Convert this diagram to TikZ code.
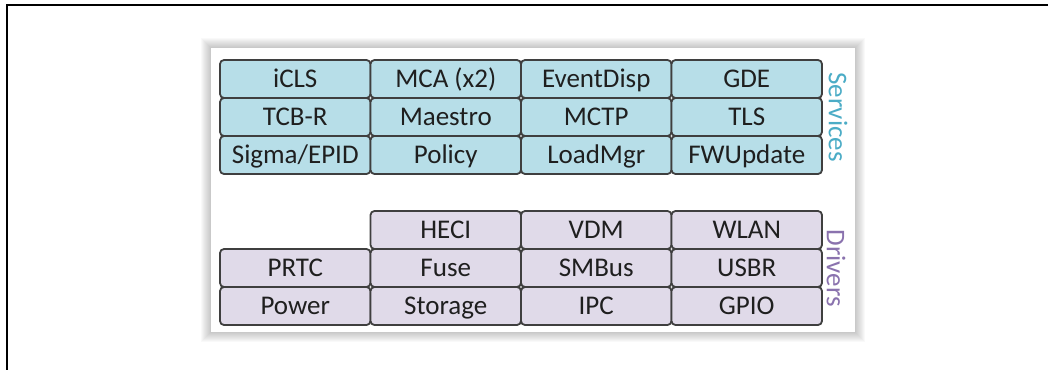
\documentclass[tikz,border=0pt]{standalone}
\usepackage{fontspec}
\setmainfont{Carlito}
\definecolor{svcfill}{HTML}{B7DEE8}
\definecolor{svctext}{HTML}{4BACC6}
\definecolor{drvfill}{HTML}{E0DAE9}
\definecolor{drvtext}{HTML}{8A72AE}
\definecolor{cellline}{HTML}{3F3F3F}
\begin{document}
\begin{tikzpicture}[x=1pt,y=-1pt,
        cell/.style={draw=cellline,line width=1.8pt,rounded corners=4pt,minimum width=150.5pt,minimum height=38pt,inner sep=0pt,text height=17pt,text depth=0pt,text=black!88,font=\fontsize{27}{28}\selectfont},
        svc/.style={cell,fill=svcfill},
        drv/.style={cell,fill=drvfill},
        side/.style={rotate=-90,inner sep=0pt,font=\fontsize{27}{28}\selectfont}]
        \useasboundingbox (0,0) rectangle (1052,370);
        %% Frame
        \draw[line width=2.5pt] (1048,5) -- (7,5) -- (7,370);
        %% Panel
        \foreach \i in {1,...,10}
            \fill[black,opacity=0.025] (211-\i,48-\i) rectangle (855+\i,332+\i);
        \fill[white] (211,48) rectangle (855,332);
        %% Services
        \node[svc] (iCLS) at (295.25,79) {iCLS};
        \node[svc] (MCA) at (445.75,79) {MCA (x2)};
        \node[svc] (EventDisp) at (596.25,79) {EventDisp};
        \node[svc] (GDE) at (746.75,79) {GDE};
        \node[svc] (TCBR) at (295.25,117) {TCB-R};
        \node[svc] (Maestro) at (445.75,117) {Maestro};
        \node[svc] (MCTP) at (596.25,117) {MCTP};
        \node[svc] (TLS) at (746.75,117) {TLS};
        \node[svc] (Sigma) at (295.25,155) {Sigma/EPID};
        \node[svc] (Policy) at (445.75,155) {Policy};
        \node[svc] (LoadMgr) at (596.25,155) {LoadMgr};
        \node[svc] (FWUpdate) at (746.75,155) {FWUpdate};
        \node[side,text=svctext] (Services) at (838,117) {Services};
        %% Drivers
        \node[drv] (HECI) at (445.75,230) {HECI};
        \node[drv] (VDM) at (596.25,230) {VDM};
        \node[drv] (WLAN) at (746.75,230) {WLAN};
        \node[drv] (PRTC) at (295.25,268) {PRTC};
        \node[drv] (Fuse) at (445.75,268) {Fuse};
        \node[drv] (SMBus) at (596.25,268) {SMBus};
        \node[drv] (USBR) at (746.75,268) {USBR};
        \node[drv] (Power) at (295.25,306) {Power};
        \node[drv] (Storage) at (445.75,306) {Storage};
        \node[drv] (IPC) at (596.25,306) {IPC};
        \node[drv] (GPIO) at (746.75,306) {GPIO};
        \node[side,text=drvtext] (Drivers) at (836,268) {Drivers};
    \end{tikzpicture}
\end{document}
